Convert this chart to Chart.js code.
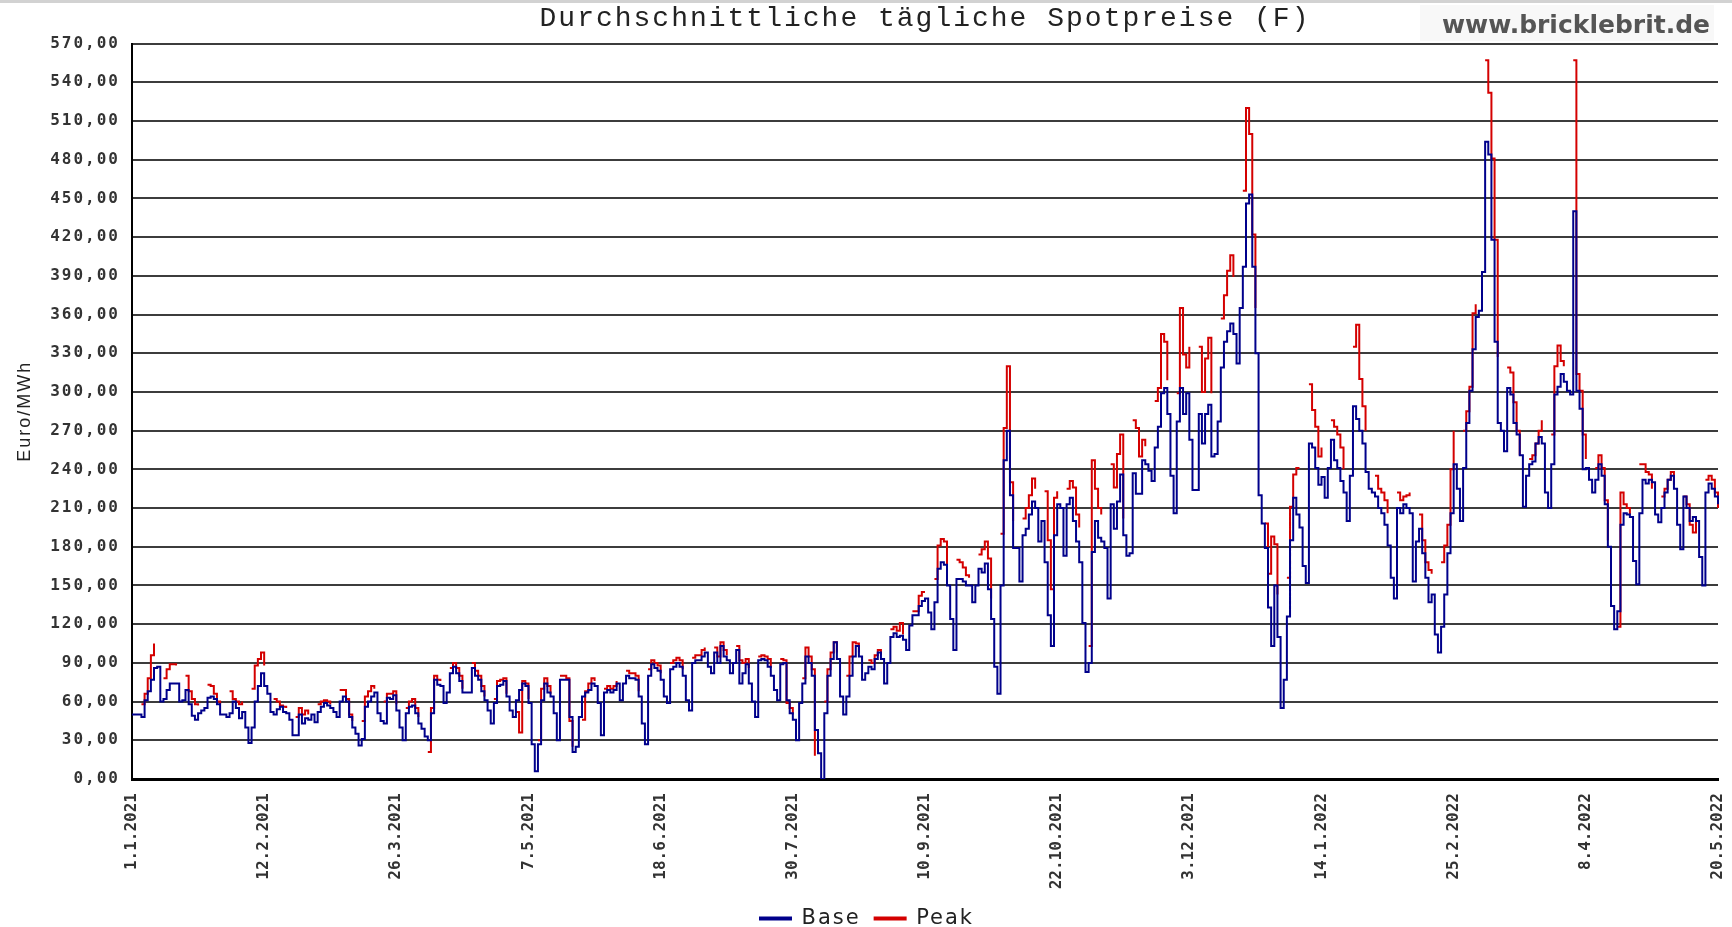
<!DOCTYPE html>
<html>
<head>
<meta charset="utf-8">
<title>Durchschnittliche tägliche Spotpreise (F)</title>
<script src="https://cdn.jsdelivr.net/npm/chart.js@4.4.1/dist/chart.umd.min.js"></script>
<style>
  html, body { margin: 0; padding: 0; background: #fff; }
  #wrap { width: 1732px; height: 927px; }
</style>
</head>
<body>
<div id="wrap"><canvas id="spotChart" width="1732" height="927"></canvas></div>
<script>
// Tageswerte 1.1.2021 - 20.5.2022, eine Zeile = eine Woche (Fr..Do)
var _ = null;

var tickLabels = ['1.1.2021', '12.2.2021', '26.3.2021', '7.5.2021', '18.6.2021', '30.7.2021',
  '10.9.2021', '22.10.2021', '3.12.2021', '14.1.2022', '25.2.2022', '8.4.2022', '20.5.2022'];

var base = [
  50, 50, 50, 48, 61, 68, 77,
  86, 87, 60, 62, 69, 74, 74,
  74, 60, 61, 69, 58, 49, 46,
  51, 53, 55, 63, 64, 62, 58,
  50, 50, 48, 51, 60, 55, 47,
  52, 40, 28, 40, 60, 72, 82,
  72, 66, 52, 50, 54, 56, 52,
  51, 46, 34, 34, 50, 43, 47,
  46, 50, 44, 52, 56, 59, 57,
  55, 52, 48, 60, 64, 60, 48,
  40, 35, 26, 31, 56, 60, 64,
  67, 51, 45, 43, 63, 62, 65,
  53, 40, 30, 51, 56, 57, 51,
  43, 39, 33, 30, 51, 77, 73,
  72, 59, 67, 82, 87, 82, 76,
  67, 67, 67, 86, 80, 77, 68,
  61, 53, 43, 59, 72, 73, 76,
  64, 53, 48, 61, 69, 74, 72,
  59, 27, 6, 27, 61, 74, 67,
  64, 51, 30, 77, 77, 77, 48,
  21, 25, 48, 64, 67, 69, 74,
  72, 59, 34, 67, 69, 67, 69,
  74, 61, 74, 80, 78, 78, 77,
  64, 43, 27, 80, 89, 86, 84,
  77, 64, 59, 85, 87, 90, 87,
  80, 61, 53, 90, 92, 92, 95,
  98, 87, 82, 98, 90, 103, 95,
  92, 82, 90, 100, 74, 82, 89,
  74, 60, 48, 92, 93, 92, 87,
  80, 69, 61, 89, 90, 61, 51,
  46, 30, 59, 74, 95, 90, 80,
  38, 20, 0, 51, 80, 93, 106,
  93, 64, 50, 64, 80, 95, 103,
  95, 77, 82, 87, 85, 93, 98,
  93, 74, 90, 110, 113, 110, 111,
  108, 100, 119, 127, 127, 134, 138,
  140, 129, 116, 137, 163, 168, 166,
  150, 124, 100, 155, 155, 153, 150,
  150, 137, 150, 163, 160, 167, 147,
  124, 87, 66, 150, 247, 270, 220,
  179, 179, 153, 189, 194, 205, 215,
  210, 184, 200, 168, 127, 103, 189,
  213, 210, 173, 213, 218, 200, 184,
  168, 121, 83, 90, 176, 200, 187,
  184, 179, 140, 213, 194, 215, 236,
  189, 173, 175, 237, 221, 221, 247,
  244, 239, 231, 257, 273, 299, 303,
  283, 235, 206, 277, 303, 283, 299,
  263, 224, 224, 283, 260, 283, 290,
  250, 252, 277, 319, 339, 347, 353,
  345, 322, 365, 397, 446, 453, 397,
  330, 220, 198, 179, 133, 103, 150,
  110, 55, 77, 126, 185, 218, 205,
  195, 165, 152, 260, 257, 241, 228,
  234, 218, 241, 263, 247, 241, 231,
  222, 200, 235, 289, 279, 270, 260,
  238, 225, 222, 219, 210, 206, 197,
  181, 156, 140, 210, 206, 213, 210,
  206, 153, 184, 194, 175, 156, 137,
  143, 112, 98, 118, 143, 175, 206,
  244, 225, 200, 241, 276, 301, 333,
  358, 363, 393, 494, 484, 418, 339,
  276, 270, 254, 303, 298, 276, 267,
  251, 211, 235, 244, 246, 260, 265,
  260, 222, 210, 244, 298, 304, 314,
  308, 301, 298, 440, 301, 287, 240,
  241, 232, 222, 232, 244, 235, 213,
  180, 134, 116, 130, 197, 206, 205,
  203, 169, 151, 206, 232, 229, 232,
  230, 205, 199, 210, 222, 232, 235,
  225, 197, 178, 219, 210, 200, 203,
  200, 172, 150, 222, 229, 225, 219,
  213
];

// Peak nur werktags, Wochenende leer
var peak = [
  52, _, _, 58, 66, 78, 96,
  105, _, _, 78, 85, 89, 89,
  88, _, _, 80, 68, 62, 58,
  57, _, _, 73, 72, 66, 60,
  58, _, _, 68, 62, 60, 58,
  60, _, _, 70, 88, 93, 98,
  88, _, _, 62, 60, 57, 56,
  55, _, _, 48, 55, 50, 53,
  50, _, _, 58, 60, 61, 60,
  58, _, _, 69, 69, 62, 50,
  45, _, _, 45, 64, 68, 72,
  70, _, _, 60, 66, 66, 68,
  58, _, _, 55, 60, 62, 55,
  48, _, _, 21, 55, 80, 77,
  76, _, _, 86, 90, 86, 80,
  70, _, _, 90, 84, 80, 72,
  64, _, _, 62, 76, 77, 78,
  66, _, _, 52, 36, 76, 74,
  62, _, _, 30, 70, 78, 72,
  66, _, _, 80, 80, 78, 45,
  25, _, _, 46, 68, 74, 78,
  76, _, _, 70, 72, 70, 72,
  76, _, _, 84, 82, 82, 80,
  68, _, _, 85, 92, 90, 88,
  82, _, _, 90, 92, 94, 92,
  85, _, _, 94, 96, 96, 100,
  102, _, _, 102, 95, 106, 100,
  96, _, _, 103, 92, 90, 93,
  86, _, _, 95, 96, 95, 93,
  86, _, _, 93, 92, 59, 55,
  50, _, _, 78, 102, 95, 85,
  18, _, _, 60, 85, 98, 106,
  98, _, _, 80, 95, 106, 105,
  98, _, _, 92, 90, 96, 100,
  96, _, _, 116, 118, 115, 121,
  112, _, _, 130, 130, 142, 145,
  145, _, _, 155, 181, 186, 184,
  165, _, _, 170, 168, 164, 158,
  156, _, _, 174, 178, 184, 171,
  140, _, _, 190, 272, 320, 230,
  200, _, _, 202, 210, 220, 233,
  225, _, _, 223, 185, 147, 218,
  223, _, _, 225, 231, 226, 205,
  195, _, _, 103, 247, 225, 210,
  205, _, _, 244, 226, 252, 267,
  202, _, _, 278, 272, 250, 263,
  258, _, _, 293, 303, 345, 339,
  309, _, _, 299, 365, 329, 319,
  335, _, _, 335, 300, 326, 342,
  299, _, _, 357, 375, 394, 406,
  389, _, _, 456, 520, 500, 422,
  365, _, _, 198, 159, 188, 182,
  143, _, _, 156, 211, 236, 241,
  241, _, _, 306, 286, 273, 250,
  257, _, _, 278, 273, 267, 257,
  240, _, _, 335, 352, 310, 289,
  270, _, _, 235, 225, 222, 216,
  206, _, _, 222, 216, 219, 220,
  222, _, _, 205, 185, 168, 162,
  159, _, _, 168, 181, 197, 240,
  270, _, _, 270, 285, 304, 361,
  368, _, _, 557, 532, 481, 418,
  327, _, _, 319, 315, 292, 270,
  251, _, _, 248, 251, 260, 270,
  278, _, _, 267, 320, 336, 324,
  320, _, _, 557, 314, 301, 267,
  248, _, _, 241, 251, 241, 216,
  185, _, _, 118, 222, 213, 210,
  205, _, _, 244, 244, 238, 236,
  225, _, _, 219, 225, 232, 238,
  228, _, _, 219, 213, 197, 191,
  203, _, _, 232, 235, 232, 222,
  210
];

// Datumsbeschriftung pro Tag
var days = base.map(function(v, i) {
  var d = new Date(2021, 0, 1 + i);
  return d.getDate() + '.' + (d.getMonth() + 1) + '.' + d.getFullYear();
});

var monoFont = 'DejaVu Sans Mono';

var decor = {
  id: 'decor',
  beforeDraw: function(chart) {
    var ctx = chart.ctx;
    ctx.save();
    ctx.fillStyle = '#fff';
    ctx.fillRect(0, 0, chart.width, chart.height);
    ctx.fillStyle = '#d2d2d2';
    ctx.fillRect(0, 0, chart.width, 3);
    ctx.fillStyle = '#f8f8f8';
    ctx.fillRect(1420, 5, 294, 36);
    ctx.restore();
    // breite Laufweite fuer Titel, y-Achse, Legende
    ctx.letterSpacing = '2px';
  },
  afterDatasetsDraw: function(chart) {
    // x-Beschriftung (ticks.z = 1) ohne Sperrung
    chart.ctx.letterSpacing = '0px';
  },
  afterDraw: function(chart) {
    var ctx = chart.ctx;
    ctx.letterSpacing = '0px';
    ctx.save();
    ctx.font = 'bold 25px "DejaVu Sans"';
    ctx.fillStyle = '#555';
    ctx.textAlign = 'right';
    ctx.textBaseline = 'alphabetic';
    ctx.fillText('www.bricklebrit.de', 1710, 33);
    ctx.restore();
  }
};

window.onload = function() {
  var ctx = document.getElementById('spotChart').getContext('2d');
  window.spotChart = new Chart(ctx, {
    type: 'line',
    data: {
      labels: days,
      datasets: [
        { label: 'Base', data: base, borderColor: '#00008b', backgroundColor: '#00008b',
          borderWidth: 2, pointRadius: 0, stepped: true },
        { label: 'Peak', data: peak, borderColor: '#d40000', backgroundColor: '#d40000',
          borderWidth: 2, pointRadius: 0, stepped: true, spanGaps: false }
      ]
    },
    options: {
      responsive: false,
      animation: false,
      devicePixelRatio: 1,
      layout: { padding: { top: 0, right: 14, bottom: -12, left: 0 } },
      plugins: {
        title: {
          display: true,
          fullSize: false,
          text: 'Durchschnittliche tägliche Spotpreise (F)',
          color: '#222',
          font: { family: 'Liberation Mono', size: 28, weight: 'normal' },
          padding: { top: 2, bottom: 8 }
        },
        legend: {
          position: 'bottom',
          labels: {
            boxWidth: 31,
            boxHeight: 2,
            padding: 14,
            color: '#222',
            font: { family: 'DejaVu Sans', size: 21 }
          }
        },
        tooltip: { enabled: false }
      },
      scales: {
        x: {
          type: 'category',
          offset: false,
          afterFit: function(s) {
            s.height = 115;
            s.paddingLeft = 0;
            s.paddingRight = 0;
          },
          grid: { display: false },
          border: { color: '#000', width: 3 },
          ticks: {
            z: 1,
            autoSkip: false,
            minRotation: 90,
            maxRotation: 90,
            padding: 6,
            color: '#333',
            font: { family: monoFont, size: 16, weight: 'bold' },
            callback: function(v, i) { return i % 42 === 0 ? tickLabels[i / 42] : null; }
          }
        },
        y: {
          min: 0,
          max: 570,
          afterFit: function(s) { s.width = 132; },
          grid: { color: '#3c3c3c', lineWidth: 2, drawTicks: false },
          border: { color: '#000', width: 2 },
          ticks: {
            stepSize: 30,
            padding: 12,
            color: '#333',
            font: { family: monoFont, size: 16, weight: 'bold' },
            callback: function(v) { return v.toFixed(2).replace('.', ','); }
          },
          title: {
            display: true,
            text: 'Euro/MWh',
            color: '#222',
            font: { family: 'Liberation Sans', size: 18 },
            padding: { top: 14, bottom: 0 }
          }
        }
      }
    },
    plugins: [decor]
  });
};
</script>
</body>
</html>
